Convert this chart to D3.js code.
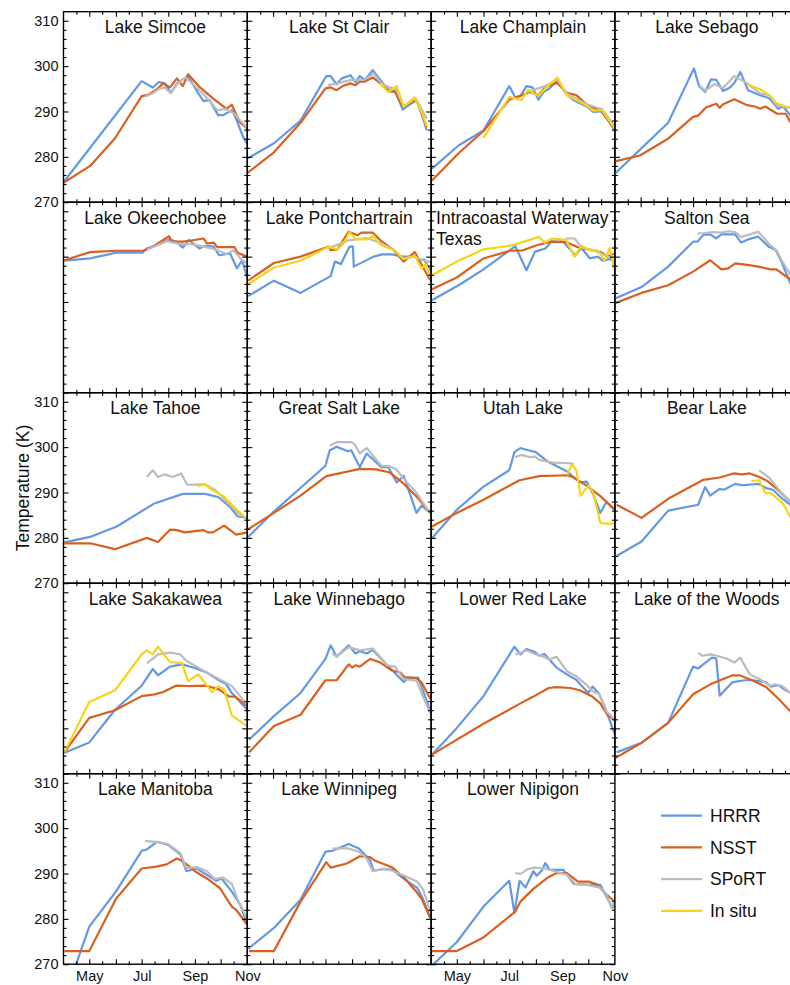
<!DOCTYPE html>
<html>
<head>
<meta charset="utf-8">
<script src="https://cdn.jsdelivr.net/npm/d3@7"></script>
<style>
body { margin: 0; background: #fff; }
text { font-family: "Liberation Sans", Arial, Helvetica, sans-serif; }
</style>
</head>
<body>
<svg id="chart" width="790" height="985"></svg>
<script>
// lake names, in panel order (4 per row)
var lakes = ["Lake Simcoe", "Lake St Clair", "Lake Champlain", "Lake Sebago",
  "Lake Okeechobee", "Lake Pontchartrain", "Intracoastal Waterway|Texas", "Salton Sea",
  "Lake Tahoe", "Great Salt Lake", "Utah Lake", "Bear Lake",
  "Lake Sakakawea", "Lake Winnebago", "Lower Red Lake", "Lake of the Woods",
  "Lake Manitoba", "Lake Winnipeg", "Lower Nipigon"];

// values: [day of year, temperature K]
var hrrr = [
  [[91,274.4],[182,296.7],[195,295.3],[202,296.5],[209,296.2],[216,294.1],[223,296.2],[236,297.8],[248,294],[254,292.3],[261,292.5],[271,289.2],[277,289.2],[287,290.3],[292,288.4],[300,284.4],[305,282.8]],
  [[91,279.6],[122,283],[153,288],[183,297.8],[188,297.8],[195,296],[201,297.3],[211,298],[217,296.5],[222,297.8],[228,296.9],[237,299.1],[246,296.9],[255,294.8],[263,294.6],[272,290.4],[279,291.4],[288,292.5],[294,289.5],[300,285.8]],
  [[92,277.4],[123,282.5],[152,285.8],[182,295.6],[189,293.1],[195,293.4],[202,295.6],[209,295.3],[216,292.6],[222,294.3],[229,295.1],[238,296.9],[249,293.7],[257,292.5],[272,291.1],[280,289.9],[290,290.1],[305,285.8]],
  [[91,276.3],[153,287.5],[183,299.5],[189,295.6],[196,294.3],[203,297.1],[209,297],[217,294.5],[225,295.3],[230,296.3],[237,298.7],[246,294.7],[260,293.6],[271,292.9],[281,290.6],[287,291.1],[295,289.2],[305,287]],
  [[92,299.1],[122,299.6],[153,300.9],[183,300.9],[188,301.8],[204,302.9],[214,303.8],[222,303.3],[230,302],[237,303.7],[249,301.8],[256,302.4],[266,302.2],[272,300.3],[285,300.7],[293,297.4],[299,299.2],[305,295.2]],
  [[92,291.3],[122,294.7],[153,292],[188,295.7],[193,298.9],[200,298.4],[210,302.2],[214,302.2],[215,297.8],[238,300],[248,300.5],[259,300.5],[273,300],[286,300],[292,299.2],[297,299.4],[304,297]],
  [[92,290.4],[125,293.9],[152,297.2],[189,302.3],[202,297],[212,301.1],[224,301.8],[231,303.3],[245,303.3],[259,300.3],[266,301.9],[276,299.6],[285,300],[291,299.1],[300,299.5],[305,298.5]],
  [[92,290.8],[122,293.3],[153,297.8],[182,303.3],[187,303.3],[194,304.8],[202,304.9],[209,304],[215,304.9],[231,304.9],[238,303.1],[246,303.8],[258,304.4],[270,302.2],[278,301.5],[285,298.9],[295,294.2],[305,291]],
  [[92,279],[122,280.2],[153,282.5],[196,287.5],[230,289.7],[256,289.7],[271,289],[285,286.8],[294,284.7],[305,284.4]],
  [[92,280.2],[122,285.8],[182,295.9],[187,299.3],[195,300.1],[208,299.1],[212,299.3],[222,295.6],[230,298.6],[247,295.6],[255,295.6],[265,292.2],[273,293.7],[288,285.5],[294,287.1],[304,285.5]],
  [[92,279.9],[121,286.2],[152,291.3],[182,294.9],[188,298.9],[195,299.8],[204,299.3],[213,298.9],[226,296.9],[249,294.7],[264,292.2],[272,292.4],[280,289.5],[288,285.5],[295,287.9],[305,286.1]],
  [[93,276],[122,279.2],[153,286],[188,287.3],[196,291.2],[202,289.3],[213,290.8],[218,290.6],[231,291.9],[239,291.6],[258,291.9],[268,290.9],[275,290.6],[285,288.8],[295,287.3],[305,285.5]],
  [[92,274.6],[121,276.9],[151,284.1],[182,289.4],[195,293.1],[201,291.7],[215,293.6],[229,294.1],[242,293.4],[257,292.4],[272,290.6],[280,289.8],[287,287.8],[305,284.1]],
  [[93,277.5],[122,282.7],[153,287.8],[182,295.3],[188,298.3],[195,295.8],[209,298.3],[217,296.5],[222,297],[230,296.5],[237,297.3],[254,293.9],[273,290.2],[279,291.2],[290,291.2],[293,289.7],[304,283.8]],
  [[92,274.2],[121,280.1],[152,287.1],[188,298],[195,296.3],[202,297.5],[212,296.8],[217,296],[223,296.4],[237,293.4],[249,291.9],[260,290.7],[274,287.8],[279,289.2],[286,287.8],[293,284.9],[305,278.6]],
  [[93,274.7],[122,276.8],[153,281.2],[182,293.6],[188,293.2],[204,295.6],[209,295.4],[213,287.2],[228,290.2],[242,290.6],[251,290.6],[267,290.2],[272,289.2],[282,289.5],[289,288.5],[295,287.9],[305,285.5]],
  [[91,262],[121,278.3],[152,286],[182,295],[188,295.3],[200,297],[213,296.3],[227,294.2],[234,290.5],[246,291.1],[258,289.7],[269,288.4],[275,288.9],[287,286],[297,283],[305,278.7]],
  [[92,273.4],[122,278],[153,284.2],[182,294.8],[190,295],[209,296.5],[221,295.5],[234,292.9],[238,290.6],[250,291],[260,290.8],[275,288.6],[289,286.8],[296,284.2],[304,280.2]],
  [[91,269.5],[121,274.9],[152,282.7],[182,288.4],[188,281.3],[194,288.4],[201,286.9],[210,290.5],[214,289.5],[220,290.7],[224,292.3],[229,290.8],[245,290.8],[257,287.7],[274,287.5],[288,287.5],[295,285],[302,282.4],[305,283]]
];

var nsst = [
  [[91,274.3],[122,278],[151,284.1],[182,293.4],[190,293.7],[199,294.8],[207,296.2],[215,295.3],[223,297.3],[230,295.6],[236,298.2],[250,295.3],[265,292.9],[281,290.6],[287,291.5],[296,287.7],[305,286.2]],
  [[91,276.4],[122,281],[153,287.5],[182,295.1],[188,295.3],[195,294.7],[202,295.6],[211,296.2],[217,295.8],[222,296.6],[228,296.6],[237,297.5],[246,296.2],[255,294.5],[263,294.3],[272,291.1],[279,291.7],[288,292.5],[300,286.6]],
  [[92,274.8],[123,280.8],[152,285.7],[182,292.6],[194,293.4],[206,294.3],[216,293.6],[224,295.4],[238,296.3],[249,294.1],[260,293.6],[272,291.5],[280,290.8],[288,290.3],[305,286.2]],
  [[91,279],[120,280.3],[153,284],[182,288.8],[188,289.1],[197,290.9],[209,291.7],[213,290.8],[217,291.6],[230,292.7],[245,291.4],[254,291.1],[260,290.6],[266,291.1],[280,289.5],[290,289.5],[295,287.7],[305,286.5]],
  [[92,299.2],[122,301],[153,301.3],[184,301.3],[195,302.2],[204,303.3],[214,304.5],[217,303.3],[229,303.3],[238,303.5],[254,304],[258,302.9],[266,303.1],[270,302.1],[290,302.1],[294,300.8],[305,300]],
  [[92,294.7],[122,298.6],[153,300],[186,302.2],[188,301.4],[196,301.6],[209,305.5],[219,304.7],[224,305.3],[237,305.3],[246,303.6],[261,301.5],[273,298.9],[286,301],[294,298.2],[304,294.8]],
  [[92,292.8],[121,295.4],[152,299.6],[183,301.3],[198,301.4],[214,302.5],[231,303.3],[248,303.2],[264,301.9],[279,301.4],[290,300.9],[296,300],[305,300.7]],
  [[92,289.8],[122,292],[153,293.7],[182,296.7],[202,299.2],[215,297.2],[223,297.4],[231,298.5],[245,298.2],[258,297.8],[272,297.2],[279,297.2],[295,295],[305,294]],
  [[92,278.8],[122,278.8],[151,277.5],[188,280],[201,279.1],[215,281.8],[223,281.7],[232,281.2],[254,281.7],[259,281.2],[265,281.2],[278,282.7],[292,280.7],[305,281.2]],
  [[92,281.9],[122,285.5],[153,289.3],[183,293.6],[198,294.2],[222,295.2],[241,295.1],[257,294.4],[272,292.1],[288,289.1],[304,285.5]],
  [[92,282.5],[121,285.5],[152,288.4],[182,291.5],[194,292.7],[217,293.6],[249,293.8],[256,293.4],[272,291.5],[288,289.2],[305,286.2]],
  [[93,287.3],[122,284.4],[153,288.6],[194,292.8],[213,293.3],[229,294.2],[239,294],[248,294.2],[258,293.5],[268,292.6],[279,290.9],[295,288],[305,286.5]],
  [[92,274.7],[121,282.3],[151,284],[182,287.1],[197,287.5],[207,288],[222,289.4],[237,289.3],[257,289.4],[272,288.6],[284,287],[291,287],[305,284.9]],
  [[93,274.7],[122,280.5],[153,283],[182,290.6],[195,290.6],[209,294.1],[213,293.4],[217,293.9],[222,293.6],[234,295.3],[245,294.6],[259,292.8],[269,292.3],[274,291.3],[288,291],[294,290.1],[304,286.5]],
  [[92,274.2],[121,277.5],[152,281],[195,285.5],[210,287],[228,288.9],[237,289.1],[253,288.9],[264,288.4],[278,287.1],[288,285.5],[297,282.8],[305,281.9]],
  [[91,273.4],[122,276.8],[153,281.2],[182,287.5],[202,289.7],[228,291.7],[236,291.7],[251,290.6],[267,289.1],[282,286.4],[295,283.8],[305,282]],
  [[92,272.9],[121,272.9],[152,284.4],[182,291.1],[199,291.5],[211,292],[223,293.3],[230,292.7],[244,290.5],[258,288.9],[273,286.8],[287,282.7],[292,282],[305,278.7]],
  [[93,272.9],[122,272.9],[153,283.8],[183,292.5],[188,291.3],[207,292.2],[222,293.8],[234,293.6],[240,292.8],[260,291.3],[275,288.8],[289,285.7],[294,284.4],[304,280.2]],
  [[92,272.9],[121,272.9],[152,275.9],[189,281.6],[195,283.8],[210,286.6],[226,289],[237,290.1],[249,290.1],[262,288.2],[274,288.2],[284,287.6],[293,285.8],[305,283.7]]
];

var sport = [
  [[186,293.3],[195,294],[202,295],[209,295.3],[216,294],[223,296],[233,297.5],[246,295.3],[258,293],[270,290.3],[280,290.5],[290,289.5],[305,286.3]],
  [[185,295.8],[196,296.2],[211,296.9],[228,297],[238,298.4],[247,296.2],[256,295.3],[264,295],[273,291.1],[287,292.9],[300,288.4]],
  [[203,294.3],[206,294.5],[224,295.6],[238,297.1],[249,293.9],[272,291.6],[290,290.5],[305,286.7]],
  [[189,295.8],[196,294.6],[207,296],[217,295.2],[230,297.8],[245,296.2],[260,294],[271,293.6],[279,291.4],[295,290.8],[305,290]],
  [[188,301.5],[211,303.4],[226,302.8],[242,302.7],[266,301.7],[281,300.6],[289,301.4],[299,299.2],[305,298.5]],
  [[186,301.9],[209,303.6],[230,304.1],[246,303],[260,301.7],[273,299.5],[286,300],[294,299.3],[304,298.8]],
  [[248,304],[258,304],[267,301.9],[279,301.5],[292,300.4],[302,299.7]],
  [[187,305.1],[195,305.2],[205,305.4],[215,305.3],[223,305.6],[231,305.4],[238,304.3],[246,304.8],[258,305.5],[270,302.9],[279,301.4],[287,298.6],[295,296.1],[305,293]],
  [[188,293.4],[195,294.9],[201,293.4],[209,294],[218,293.4],[228,294.2],[235,291.7],[255,291.8],[268,290.5],[285,287.3],[299,284.7]],
  [[187,300.3],[195,301.1],[212,301.1],[216,300.6],[222,298.6],[230,299.8],[247,295.9],[256,295.8],[264,295.2],[274,292.8],[288,289.9],[303,285.6]],
  [[189,297.8],[196,298.3],[206,297.8],[212,297.9],[217,297.2],[233,296.6],[249,296.5],[257,296.3]],
  [[259,294.9],[271,293.2],[285,289.9],[295,288.1],[305,286.5]],
  [[188,294.3],[201,296.3],[215,296.7],[227,296.3],[234,294.9],[257,292.4],[272,290.9],[287,289.3],[305,285.2]],
  [[190,296.5],[195,295.8],[209,297.9],[222,297.2],[237,297.6],[254,293.9],[263,293.6],[273,290.9],[288,290.5],[297,286.4],[304,283.3]],
  [[189,296.3],[195,296.6],[202,297.2],[212,296.4],[219,296],[229,295.2],[237,295.8],[249,292.6],[260,291.5],[272,289.6],[279,288.2],[287,287.5],[295,283.8],[305,281.9]],
  [[188,296.7],[193,296],[202,296.3],[209,296],[221,295.4],[230,294.5],[237,295.6],[248,291.9],[259,290.9],[272,289.4],[277,289.7],[285,289.4],[295,287.9],[305,286]],
  [[186,297.2],[200,296.9],[213,296.5],[227,294.5],[234,291.2],[246,291.4],[258,290.5],[267,288.8],[277,289.1],[287,287.7],[294,284.2],[305,280]],
  [[190,295.5],[207,295.6],[221,294.8],[230,293.3],[237,290.5],[250,291],[260,290.6],[277,289.2],[289,288.2],[296,286.4],[304,281.6]],
  [[189,290.1],[195,289.9],[204,291],[212,291.3],[224,291.1],[233,290.6],[249,289.7],[259,287.7],[272,287.5],[288,286.9],[295,285.5],[301,282.4],[305,284.2]]
];

var insitu = [
  [],
  [[246,296.2],[255,294.3],[265,295.6],[273,291.1],[286,293.1],[294,289.9],[300,286.7]],
  [[152,284.2],[182,293.2],[196,292.5],[204,294.8],[216,293.4],[224,295.1],[238,297.5],[249,293.6],[260,292.5],[272,291.3],[280,290.2],[290,290.3],[305,286.2]],
  [[246,295.9],[260,294.9],[271,293.6],[279,291.8],[295,290.8],[305,290]],
  [],
  [[92,293.9],[122,297.6],[153,299.1],[186,302.2],[196,301.6],[203,302.9],[210,305.4],[217,303.8],[230,303.8],[238,304.6],[246,302.6],[263,301.3],[273,299.5],[286,300.2],[294,297.4],[299,298.3],[305,295.3]],
  [[92,295.9],[121,298.9],[152,301.6],[183,302.4],[206,303.7],[216,304.4],[224,303.1],[231,304],[248,303.7],[258,300],[266,302.4],[276,301.4],[285,301.4],[293,299.1],[299,301.9],[305,297]],
  [],
  [[248,291.3],[255,291.9],[263,290.7],[277,289.2],[289,286.9],[302,284.6],[305,284.6]],
  [],
  [[249,293.9],[255,296.1],[260,295],[265,289.3],[274,291.5],[280,289.9],[288,283.3],[295,283.1],[305,283.2]],
  [[250,292.5],[259,292.7],[266,289.9],[273,289.8],[287,287.5],[295,284.7],[305,283]],
  [[92,274.7],[121,285.8],[151,288.4],[182,296.3],[188,297.2],[195,296.3],[201,298],[215,294.6],[229,294.4],[236,290.4],[248,291.9],[264,288],[271,289.3],[278,288.6],[287,282.8],[305,280.5]],
  [], [], [], [], [], []
];

var seriesNames = ["HRRR", "NSST", "SPoRT", "In situ"];
var seriesColors = ["#6298e6", "#d9601f", "#bcbcbc", "#f6d418"];

var monthTicks = [121, 182, 244, 305];
var monthLabels = ["May", "Jul", "Sep", "Nov"];
var monthMajor = [121, 152, 182, 213, 244, 274];
var monthMinor = [106, 136, 167, 197, 228, 259, 289];
var tempMajor = [270, 280, 290, 300, 310];
var tempMinor = d3.range(272, 312, 2).filter(function(v) { return v % 10 != 0; });

// layout
var left = 63.5, marginTop = 11.7, pw = 183.8, ph = 190.5;
var svg = d3.select("#chart");

var x = d3.scaleLinear().domain([91, 305]).range([0, pw]);
var y = d3.scaleLinear().domain([270, 312]).range([ph, 0]);

var line = d3.line()
  .x(function(d) { return x(d[0]); })
  .y(function(d) { return y(d[1]); });

function styleAxis(a) {
  a.select(".domain").remove();
  a.selectAll("line").attr("stroke", "#000").attr("stroke-width", 1.1);
  a.selectAll("text").attr("font-family", '"Liberation Sans", Arial, sans-serif')
    .attr("font-size", 14.5).attr("fill", "#111");
}

lakes.forEach(function(name, i) {
  var row = Math.floor(i / 4), col = i % 4;
  var g = svg.append("g")
    .attr("transform", "translate(" + (left + col * pw) + "," + (marginTop + row * ph) + ")");

  g.append("clipPath").attr("id", "clip" + i)
    .append("rect").attr("width", pw).attr("height", ph);

  var plot = g.append("g").attr("clip-path", "url(#clip" + i + ")");
  [hrrr, nsst, sport, insitu].forEach(function(s, k) {
    if (!s[i].length) return;
    plot.append("path").datum(s[i])
      .attr("d", line)
      .attr("fill", "none")
      .attr("stroke", seriesColors[k])
      .attr("stroke-width", 2.2)
      .attr("stroke-linejoin", "round");
  });

  // ticks, all pointing inward, on all four sides
  var showY = (col == 0 && row % 2 == 0);
  var showX = (row == 4 && col % 2 == 0);

  g.append("g").call(d3.axisLeft(y).tickValues(tempMajor).tickSize(-5).tickPadding(5)
    .tickFormat(showY ? d3.format("d") : "")).call(styleAxis);
  g.append("g").call(d3.axisLeft(y).tickValues(tempMinor).tickSize(-3).tickFormat("")).call(styleAxis);
  g.append("g").attr("transform", "translate(" + pw + ",0)")
    .call(d3.axisRight(y).tickValues(tempMajor).tickSize(-5).tickFormat("")).call(styleAxis);
  g.append("g").attr("transform", "translate(" + pw + ",0)")
    .call(d3.axisRight(y).tickValues(tempMinor).tickSize(-3).tickFormat("")).call(styleAxis);

  g.append("g").call(d3.axisTop(x).tickValues(monthMajor).tickSize(-5).tickFormat("")).call(styleAxis);
  g.append("g").call(d3.axisTop(x).tickValues(monthMinor).tickSize(-3).tickFormat("")).call(styleAxis);
  g.append("g").attr("transform", "translate(0," + ph + ")")
    .call(d3.axisBottom(x).tickValues(monthMajor).tickSize(-5).tickFormat("")).call(styleAxis);
  g.append("g").attr("transform", "translate(0," + ph + ")")
    .call(d3.axisBottom(x).tickValues(monthMinor).tickSize(-3).tickFormat("")).call(styleAxis);

  if (showX) {
    g.append("g").attr("transform", "translate(0," + ph + ")")
      .call(d3.axisBottom(x).tickValues(monthTicks).tickSize(0).tickPadding(7)
        .tickFormat(function(d, j) { return monthLabels[j]; }))
      .call(styleAxis);
  }

  g.append("rect")
    .attr("width", pw).attr("height", ph)
    .attr("fill", "none").attr("stroke", "#000").attr("stroke-width", 1.4);

  // title
  var parts = name.split("|");
  var t = g.append("text")
    .attr("font-size", 17.5).attr("fill", "#111")
    .attr("text-anchor", parts.length > 1 ? "start" : "middle");
  parts.forEach(function(p, j) {
    t.append("tspan")
      .attr("x", parts.length > 1 ? 5 : pw / 2)
      .attr("y", 21.7 + j * 21)
      .text(p);
  });
});

// y axis title
svg.append("text")
  .attr("transform", "translate(29,488) rotate(-90)")
  .attr("text-anchor", "middle")
  .attr("font-size", 17.5).attr("fill", "#111")
  .text("Temperature (K)");

// legend
var legend = svg.append("g").attr("transform", "translate(661,815.7)");
seriesNames.forEach(function(n, k) {
  var item = legend.append("g").attr("transform", "translate(0," + (k * 31.7) + ")");
  item.append("line").attr("x1", 0).attr("x2", 41)
    .attr("stroke", seriesColors[k]).attr("stroke-width", 2.2);
  item.append("text").attr("x", 49).attr("dy", "0.35em")
    .attr("font-size", 17.5).attr("fill", "#111").text(n);
});
</script>
</body>
</html>
